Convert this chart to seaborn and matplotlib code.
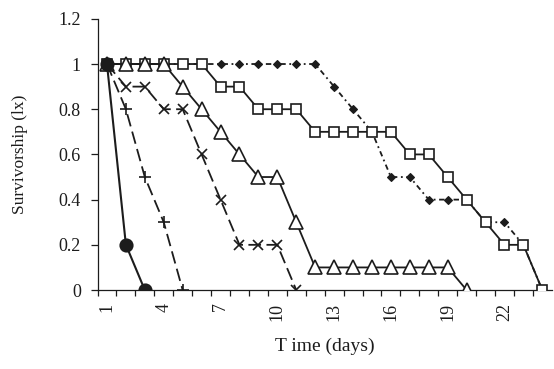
import numpy as np
import pandas as pd
import matplotlib
matplotlib.use("Agg")
import matplotlib.pyplot as plt
import seaborn as sns
from matplotlib.ticker import FixedLocator

# ---- data ----
days_circle = [1, 2, 3]
lx_circle = [1.0, 0.2, 0.0]

days_plus = [1, 2, 3, 4, 5]
lx_plus = [1.0, 0.8, 0.5, 0.3, 0.0]

days_x = [1, 2, 3, 4, 5, 6, 7, 8, 9, 10, 11]
lx_x = [1.0, 0.9, 0.9, 0.8, 0.8, 0.6, 0.4, 0.2, 0.2, 0.2, 0.0]

days_tri = list(range(1, 21))
lx_tri = [1.0, 1.0, 1.0, 1.0, 0.9, 0.8, 0.7, 0.6, 0.5, 0.5,
          0.3, 0.1, 0.1, 0.1, 0.1, 0.1, 0.1, 0.1, 0.1, 0.0]

days_sq = list(range(1, 25))
lx_sq = [1.0, 1.0, 1.0, 1.0, 1.0, 1.0, 0.9, 0.9, 0.8, 0.8, 0.8, 0.7,
         0.7, 0.7, 0.7, 0.7, 0.6, 0.6, 0.5, 0.4, 0.3, 0.2, 0.2, 0.0]

days_dia = list(range(1, 25))
lx_dia = [1.0, 1.0, 1.0, 1.0, 1.0, 1.0, 1.0, 1.0, 1.0, 1.0, 1.0, 1.0,
          0.9, 0.8, 0.7, 0.5, 0.5, 0.4, 0.4, 0.4, 0.3, 0.3, 0.2, 0.0]

x_tick_values = [1, 4, 7, 10, 13, 16, 19, 22]
y_tick_values = [0, 0.2, 0.4, 0.6, 0.8, 1.0, 1.2]
y_tick_labels = ["0", "0.2", "0.4", "0.6", "0.8", "1", "1.2"]

# ---- styling ----
sns.set_style("white")
plt.rcParams["font.family"] = ["Liberation Serif", "DejaVu Serif"]

ink = "#1c1c1c"
fig = plt.figure(figsize=(5.54, 3.69), dpi=100)
ax = fig.add_axes([0.176, 0.214, 0.820, 0.735])

def draw(days, lx, marker, ms, dashes, z, mfc, mew=1.2, lw=1.3):
    df = pd.DataFrame({"day": days, "lx": lx})
    kw = dict(data=df, x="day", y="lx", ax=ax, color=ink, marker=marker,
              markersize=ms, markerfacecolor=mfc, markeredgecolor=ink,
              markeredgewidth=mew, linewidth=lw, errorbar=None, zorder=z)
    line = sns.lineplot(**kw).lines[-1]
    if dashes is not None:
        line.set_dashes(dashes)

draw(days_dia, lx_dia, "D", 4.0, (3, 2, 1, 2), 2, ink, mew=0.8)
draw(days_sq, lx_sq, "s", 6.5, None, 3, "white")
draw(days_tri, lx_tri, "^", 10.0, None, 4, "white")
draw(days_x, lx_x, "x", 6.5, (7, 3), 5, "none")
draw(days_plus, lx_plus, "+", 8.5, (7, 3), 6, "none")
draw(days_circle, lx_circle, "o", 9.0, None, 7, ink, lw=1.5)

ax.set_xlim(0.5, 24.5)
ax.set_ylim(0, 1.2)

ax.set_xticks(x_tick_values)
ax.set_xticklabels([str(v) for v in x_tick_values], rotation=90)
ax.xaxis.set_minor_locator(FixedLocator(np.arange(0.5, 24.5, 1.0)))
ax.tick_params(axis="x", which="major", length=0, pad=9, labelsize=13, colors=ink)
ax.tick_params(axis="x", which="minor", length=4, width=0.9, direction="out",
               color=ink, bottom=True)

ax.set_yticks(y_tick_values)
ax.set_yticklabels(y_tick_labels)
ax.tick_params(axis="y", which="major", length=5, width=0.9, direction="out",
               labelsize=13, colors=ink, left=True, pad=7)

for side in ["top", "right"]:
    ax.spines[side].set_visible(False)
for side in ["left", "bottom"]:
    ax.spines[side].set_color(ink)
    ax.spines[side].set_linewidth(0.9)

ax.set_xlabel("T ime (days)", fontsize=14, color=ink, labelpad=12)
ax.set_ylabel("Survivorship (lx)", fontsize=12.5, color=ink, labelpad=22)

fig.savefig("out.png", dpi=100)
